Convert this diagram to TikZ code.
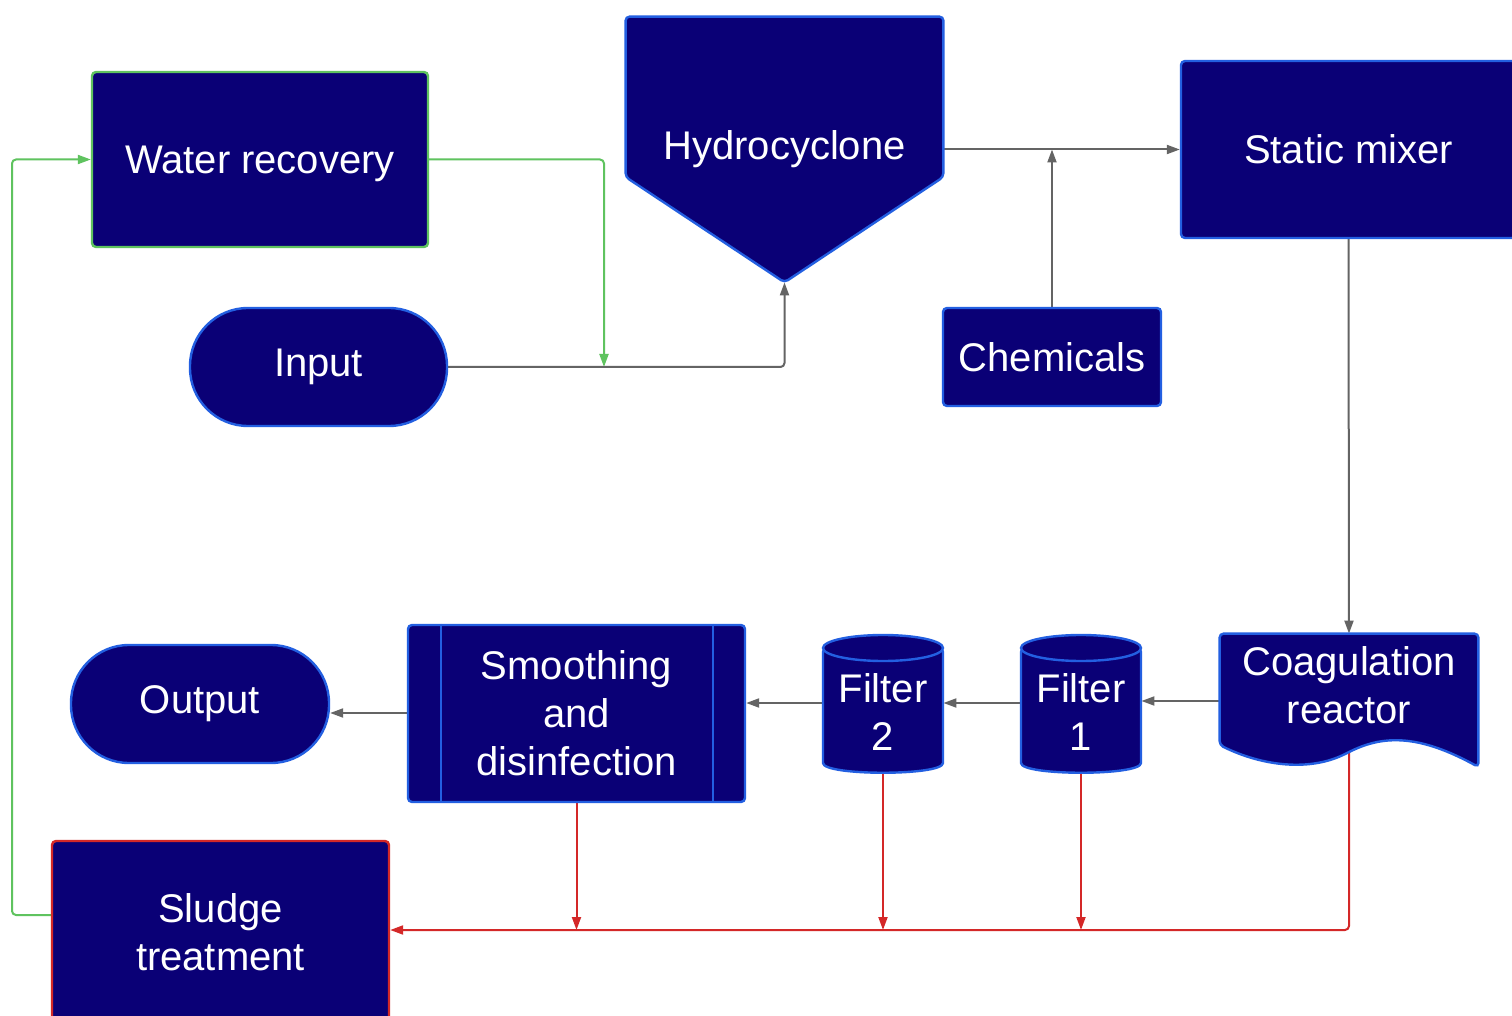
\documentclass[tikz,border=0pt]{standalone}
\usepackage{fontspec}
\setmainfont{Liberation Sans}
\usetikzlibrary{arrows.meta,calc}
\definecolor{navy}{RGB}{10,0,118}
\definecolor{edgeblue}{RGB}{35,95,225}
\definecolor{flowgreen}{RGB}{95,195,95}
\definecolor{flowred}{RGB}{212,40,40}
\definecolor{flowgray}{RGB}{100,100,100}
\pgfdeclarelayer{back}
\pgfdeclarelayer{lines}
\pgfdeclarelayer{shapes}
\pgfsetlayers{back,lines,shapes,main}
\newcommand{\cylbody}[1]{%
  \draw[shapefill] ($(#1)+(-60,-64)$) -- ($(#1)+(-60,47)$)
    .. controls ($(#1)+(-60,64)$) and ($(#1)+(60,64)$) .. ($(#1)+(60,47)$)
    -- ($(#1)+(60,-64)$) -- cycle;
  \draw[shapefill] ($(#1)+(0,-64)$) ellipse [x radius=60, y radius=13];}
\begin{document}
\begin{tikzpicture}[x=0.5pt,y=-0.5pt,
  lbl/.style={text=white, font=\fontsize{20}{24}\selectfont, align=center, inner sep=0pt},
  box/.style={lbl, rectangle, fill=navy, draw=edgeblue, line width=1.2pt, rounded corners=2pt},
  stadium/.style={box, rounded corners=29pt},
  ghost/.style={lbl, rectangle, draw=none, fill=none},
  shapefill/.style={fill=navy, draw=edgeblue, line width=1.2pt, rounded corners=2pt},
  con/.style={draw=flowgray, line width=1pt, rounded corners=2pt, -{Triangle[length=6.5pt,width=4.5pt]}},
  gcon/.style={con, draw=flowgreen, -{Triangle[length=6.5pt,width=4.5pt,fill=flowgreen]}},
  rcon/.style={con, draw=flowred, -{Triangle[length=6.5pt,width=4.5pt,fill=flowred]}},
]
\useasboundingbox (0,0) rectangle (1512,1016);
\begin{pgfonlayer}{back}
\fill[white] (0,0) rectangle (1512,1016);
\end{pgfonlayer}

% nodes
\node[box, draw=flowgreen, text depth=0pt, minimum width=168pt, minimum height=87.5pt] (wr) at (260,159.5) {Water recovery};
\node[ghost, minimum width=158.5pt, minimum height=132.5pt] (hc) at (784.5,149.5) {Hydrocyclone};
\node[box, minimum width=167.5pt, minimum height=88.5pt] (sm) at (1348.5,149.5) {Static mixer};
\node[stadium, minimum width=128.5pt, minimum height=59pt] (in) at (318.5,367) {Input};
\node[box, minimum width=109pt, minimum height=49pt] (ch) at (1052,357) {Chemicals};
\node[ghost, minimum width=129pt, minimum height=51pt] (co) at (1349,685) {Coagulation\\reactor};
\node[ghost, minimum width=60pt, minimum height=50pt] (f1) at (1081,712) {Filter\\1};
\node[ghost, minimum width=60pt, minimum height=50pt] (f2) at (883,712) {Filter\\2};
\node[box, minimum width=168.5pt, minimum height=88.5pt] (sd) at (576.5,713.5) {Smoothing\\and\\disinfection};
\node[stadium, minimum width=129pt, minimum height=59pt] (out) at (200,704) {Output};
\node[box, draw=flowred, minimum width=168.5pt, minimum height=91pt] (sl) at (220.5,932) {Sludge\\treatment};
\coordinate (j1) at (604,367);

% drawn shapes
\begin{pgfonlayer}{shapes}
\draw[shapefill] (hc.north west) -- (hc.north east) -- (hc.east |- 0,177) -- (hc.south) -- (hc.west |- 0,177) -- cycle;
\draw[shapefill] (co.north west) -- (co.north east) -- (co.north east |- 0,767)
  .. controls (1420,735) and (1385,735) .. (1349,752)
  .. controls (1310,772) and (1262,766) .. (co.north west |- 0,745) -- cycle;
\cylbody{f1}
\cylbody{f2}
\end{pgfonlayer}
\draw[edgeblue, line width=1.2pt] ($(sd.north west)+(34,0)$) -- ($(sd.south west)+(34,0)$);
\draw[edgeblue, line width=1.2pt] ($(sd.north east)+(-33,0)$) -- ($(sd.south east)+(-33,0)$);

% connectors
\begin{pgfonlayer}{lines}
\draw[gcon] (wr.east) -- (604,159.5) -- (j1);
\draw[gcon] (sl.west |- 0,915) -- (12,915) -- (12,159.5) -- (wr.west);
\draw[con] (in.east) -- (hc.south |- in.east) -- (hc.south);
\draw[con] (hc.east) -- (sm.west);
\draw[con] (ch.north) -- (ch.north |- sm.west);
\draw[con] (sm.south) -- (co.north);
\draw[con] (co.west |- 0,701) -- (f1.east |- 0,701);
\draw[con] (f1.west |- 0,703) -- (f2.east |- 0,703);
\draw[con] (f2.west |- 0,703) -- (sd.east |- 0,703);
\draw[con] (sd.west |- 0,713) -- (out.east |- 0,713);
\draw[rcon] (co.center) -- (co.center |- 0,930) -- (sl.east |- 0,930);
\draw[rcon] (sd.south) -- (sd.south |- 0,930);
\draw[rcon] (f2.center) -- (f2.center |- 0,930);
\draw[rcon] (f1.center) -- (f1.center |- 0,930);
\end{pgfonlayer}
\end{tikzpicture}
\end{document}
